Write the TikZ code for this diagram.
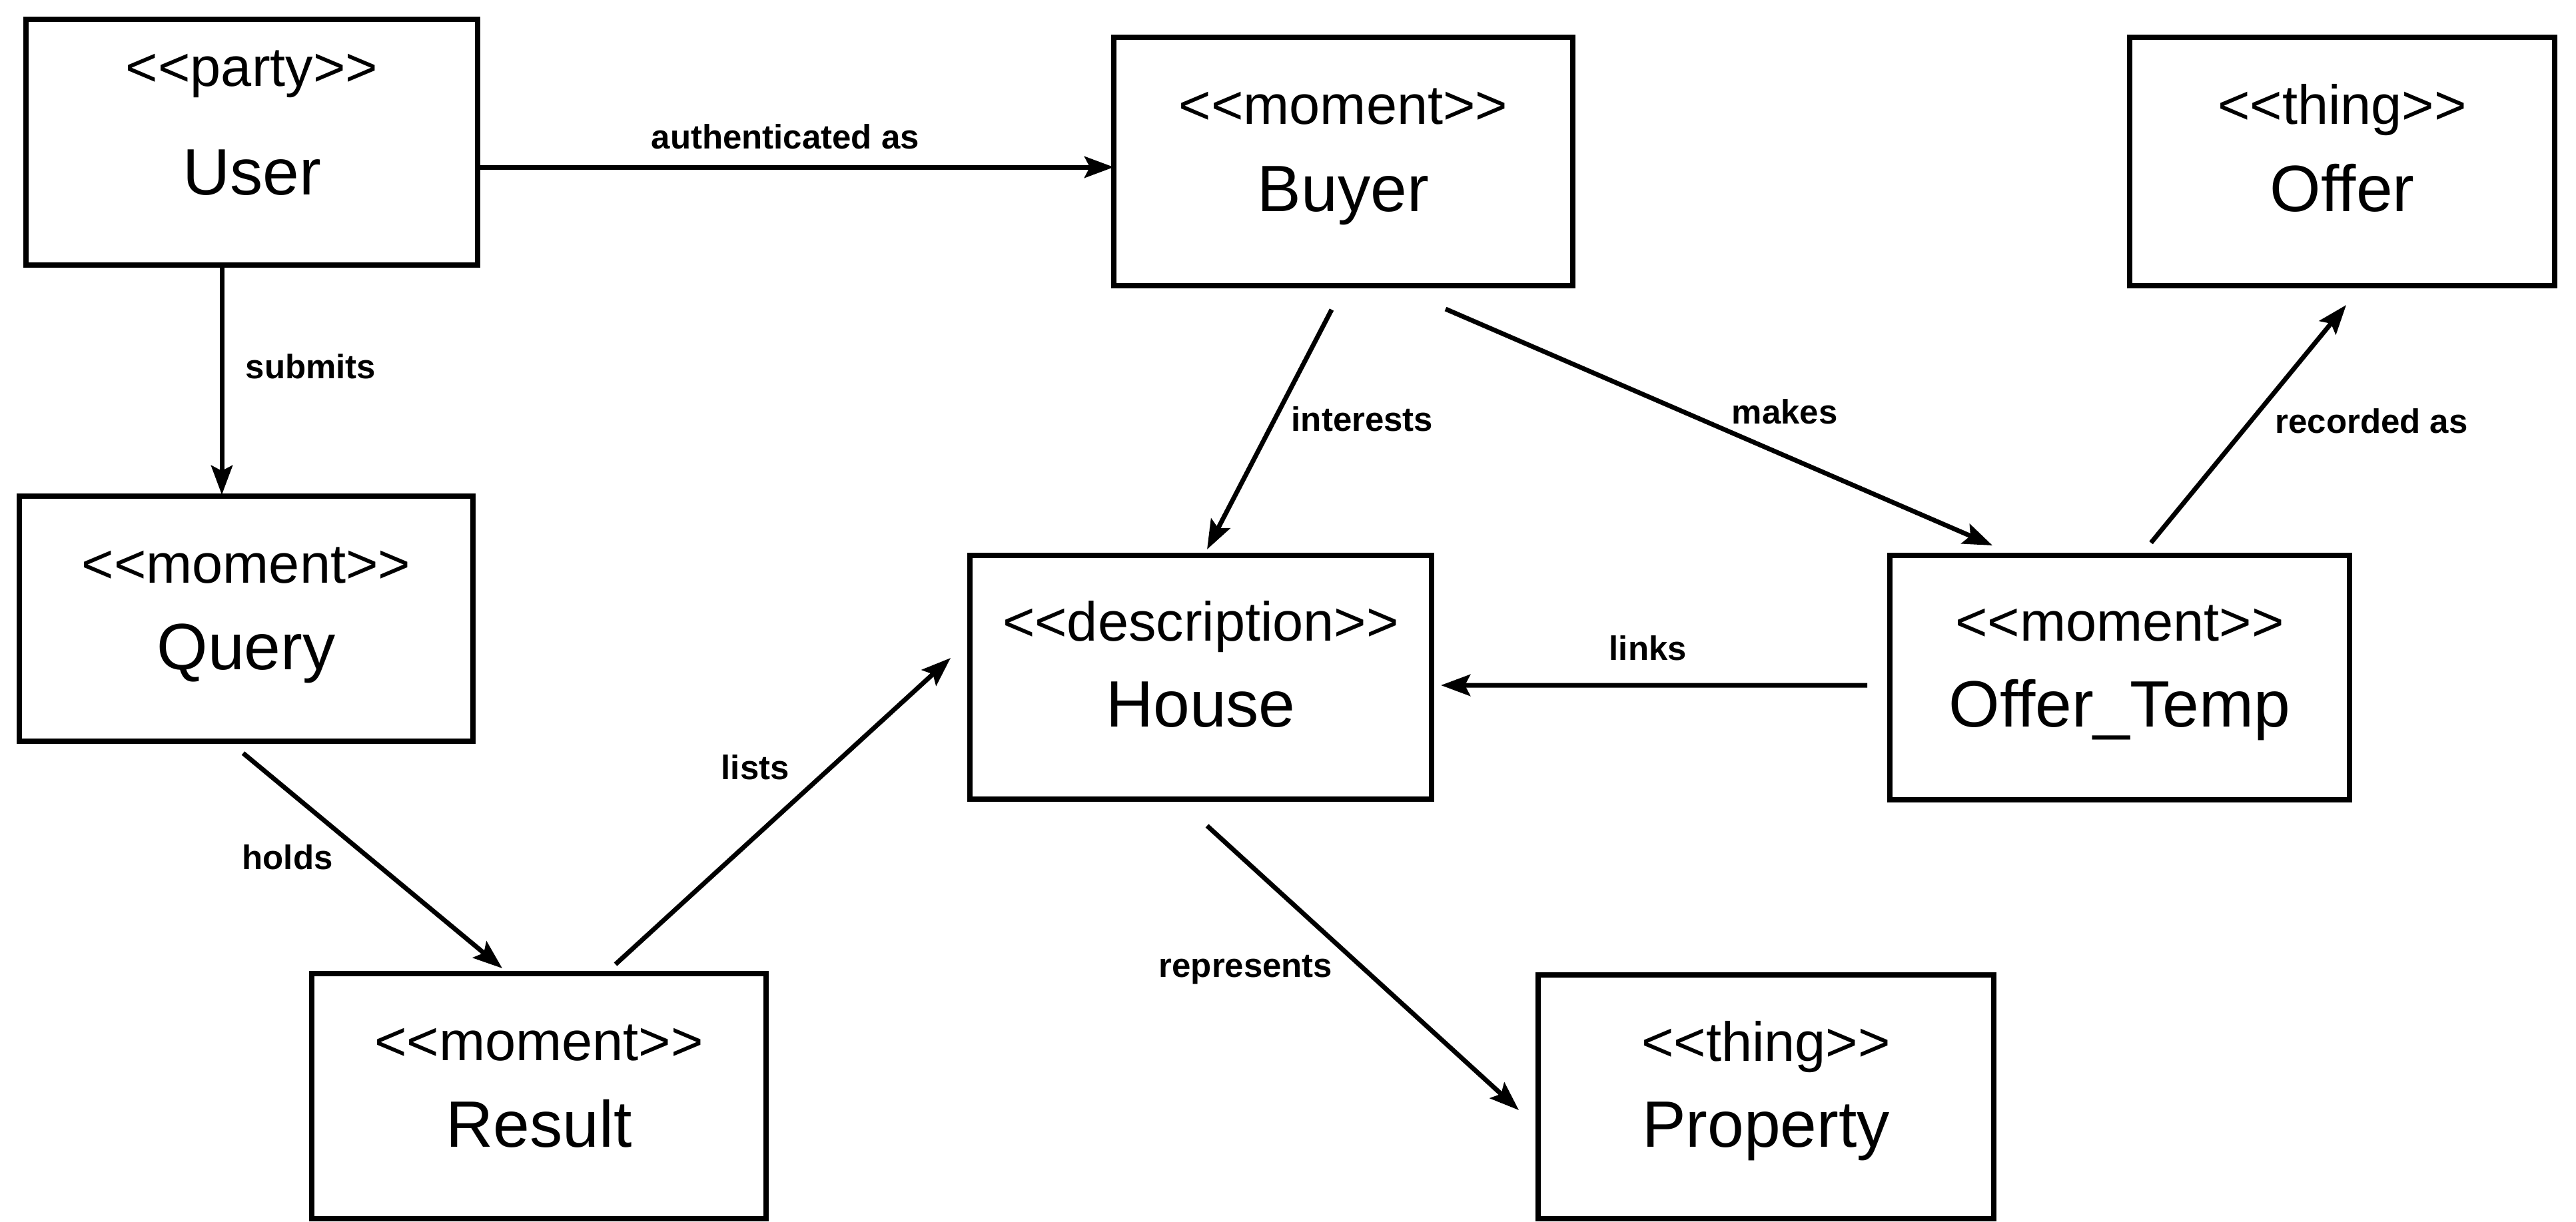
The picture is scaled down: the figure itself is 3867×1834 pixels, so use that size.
\documentclass[tikz,border=0pt]{standalone}
\usepackage{fontspec}
\setmainfont{Liberation Sans}
\usetikzlibrary{calc,arrows.meta}
% stereotype text in angle brackets, kept apart so no guillemet ligature forms
\newcommand{\stype}[1]{<\kern0pt<#1>\kern0pt>}
\begin{document}
\begin{tikzpicture}[x=0.1mm,y=-0.1mm,
  classbox/.style={draw, line width=0.85mm, inner sep=0pt, outer sep=0pt},
  stereo/.style={anchor=base, inner sep=0pt, font=\fontsize{23.6pt}{28pt}\selectfont},
  cname/.style={anchor=base, inner sep=0pt, font=\fontsize{28pt}{33pt}\selectfont},
  rel/.style={line width=0.7mm, -{Stealth[length=4.4mm,width=3.2mm,inset=0.8mm]}},
  rlabel/.style={anchor=west, inner sep=0pt, font=\bfseries\fontsize{14.5pt}{17pt}\selectfont}
]
\useasboundingbox (0,0) rectangle (3867,1834);

% classes
\node[classbox, minimum width=67.8mm, minimum height=36.9mm] (user) at (378,213.5) {};
\node[stereo] (userS) at ($(user.north)+(0,100)$) {\stype{party}};
\node[cname] (userN) at ($(user.north)+(0,263)$) {User};

\node[classbox, minimum width=68.9mm, minimum height=37.3mm] (buyer) at (2016.5,242.5) {};
\node[stereo] (buyerS) at ($(buyer.north)+(0,130)$) {\stype{moment}};
\node[cname] (buyerN) at ($(buyer.north)+(0,261)$) {Buyer};

\node[classbox, minimum width=63.8mm, minimum height=37.3mm] (offer) at (3516,242.5) {};
\node[stereo] (offerS) at ($(offer.north)+(0,130)$) {\stype{thing}};
\node[cname] (offerN) at ($(offer.north)+(0,261)$) {Offer};

\node[classbox, minimum width=68.1mm, minimum height=36.8mm] (query) at (369.5,929) {};
\node[stereo] (queryS) at ($(query.north)+(0,130)$) {\stype{moment}};
\node[cname] (queryN) at ($(query.north)+(0,260)$) {Query};

\node[classbox, minimum width=69.3mm, minimum height=36.6mm] (house) at (1802.5,1017) {};
\node[stereo] (houseS) at ($(house.north)+(0,128)$) {\stype{description}};
\node[cname] (houseN) at ($(house.north)+(0,257)$) {House};

\node[classbox, minimum width=69.0mm, minimum height=36.7mm] (offertemp) at (3182,1017.5) {};
\node[stereo] (offertempS) at ($(offertemp.north)+(0,128)$) {\stype{moment}};
\node[cname] (offertempN) at ($(offertemp.north)+(0,257)$) {Offer\_Temp};

\node[classbox, minimum width=68.2mm, minimum height=36.8mm] (result) at (809,1646) {};
\node[stereo] (resultS) at ($(result.north)+(0,130)$) {\stype{moment}};
\node[cname] (resultN) at ($(result.north)+(0,260)$) {Result};

\node[classbox, minimum width=68.4mm, minimum height=36.6mm] (property) at (2651,1647) {};
\node[stereo] (propertyS) at ($(property.north)+(0,129)$) {\stype{thing}};
\node[cname] (propertyN) at ($(property.north)+(0,258)$) {Property};

% associations
\draw[rel] ($(user.east)+(0,37.5)$) -- ($(buyer.west)+(0,8.5)$);
\draw[rel] ($(user.south)+(-45,0)$) -- ($(query.north)+(-36.5,-2)$);
\draw[rel] ($(query.south)+(-4.5,18)$) -- ($(result.north)+(-55,-8)$);
\draw[rel] ($(result.north)+(115,-14)$) -- ($(house.west)+(-29,-29)$);
\draw[rel] ($(buyer.south)+(-17.5,36)$) -- ($(house.north)+(9.5,-9)$);
\draw[rel] ($(buyer.south)+(153.5,35)$) -- ($(offertemp.north)+(-191,-15)$);
\draw[rel] ($(offertemp.north)+(47,-19)$) -- ($(offer.south)+(6,29)$);
\draw[rel] ($(offertemp.west)+(-34,11.5)$) -- ($(house.east)+(14,12)$);
\draw[rel] ($(house.south)+(9.5,40)$) -- ($(property.west)+(-29,20)$);

% association names
\node[rlabel] (lauth) at (977,205) {authenticated as};
\node[rlabel] (lsub) at (368,550) {submits};
\node[rlabel] (lholds) at (363,1287) {holds};
\node[rlabel] (llists) at (1082,1152) {lists};
\node[rlabel] (lint) at (1938,629) {interests};
\node[rlabel] (lmakes) at (2599,618) {makes};
\node[rlabel] (lrec) at (3415,632) {recorded as};
\node[rlabel] (llinks) at (2415,973) {links};
\node[rlabel] (lrep) at (1739,1456) {represents};
\end{tikzpicture}
\end{document}
